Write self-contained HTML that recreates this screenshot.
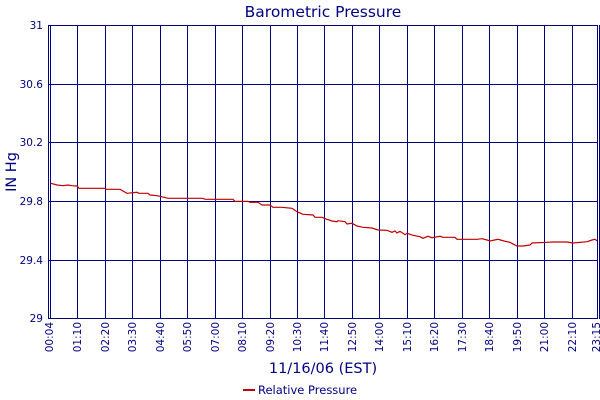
<!DOCTYPE html>
<html><head><style>body{margin:0;background:#fff}svg{display:block}</style></head><body>
<svg width="600" height="400" xmlns="http://www.w3.org/2000/svg" font-family="DejaVu Sans, Verdana, sans-serif" fill="#000080">
<rect width="600" height="400" fill="#fff"/>
<text x="323" y="17" font-size="15.5" text-anchor="middle">Barometric Pressure</text>
<g stroke="#000080" stroke-width="1" shape-rendering="crispEdges">
<line x1="49" y1="25.5" x2="598" y2="25.5"/><line x1="49" y1="84.5" x2="598" y2="84.5"/><line x1="49" y1="142.5" x2="598" y2="142.5"/><line x1="49" y1="201.5" x2="598" y2="201.5"/><line x1="49" y1="260.5" x2="598" y2="260.5"/><line x1="49" y1="318.5" x2="598" y2="318.5"/>
<line x1="48.5" y1="25" x2="48.5" y2="319"/><line x1="50.5" y1="25" x2="50.5" y2="319"/>
<line x1="77.5" y1="25" x2="77.5" y2="319"/><line x1="105.5" y1="25" x2="105.5" y2="319"/><line x1="132.5" y1="25" x2="132.5" y2="319"/><line x1="160.5" y1="25" x2="160.5" y2="319"/><line x1="187.5" y1="25" x2="187.5" y2="319"/><line x1="215.5" y1="25" x2="215.5" y2="319"/><line x1="242.5" y1="25" x2="242.5" y2="319"/><line x1="270.5" y1="25" x2="270.5" y2="319"/><line x1="297.5" y1="25" x2="297.5" y2="319"/><line x1="324.5" y1="25" x2="324.5" y2="319"/><line x1="352.5" y1="25" x2="352.5" y2="319"/><line x1="379.5" y1="25" x2="379.5" y2="319"/><line x1="407.5" y1="25" x2="407.5" y2="319"/><line x1="434.5" y1="25" x2="434.5" y2="319"/><line x1="462.5" y1="25" x2="462.5" y2="319"/><line x1="489.5" y1="25" x2="489.5" y2="319"/><line x1="517.5" y1="25" x2="517.5" y2="319"/><line x1="544.5" y1="25" x2="544.5" y2="319"/><line x1="572.5" y1="25" x2="572.5" y2="319"/><line x1="597.5" y1="25" x2="597.5" y2="319"/><line x1="599.5" y1="25" x2="599.5" y2="319"/>
</g>
<polyline fill="none" stroke="#c00000" stroke-width="1.2" points="51,183.3 57,185 63,185.7 68,185 72,185.7 77,186 79,188.3 105,188.3 106,189.3 120,189.3 127,193.3 137,192.3 139,193.3 148,193.3 150,195 157,195.7 160,196.3 168,198.3 203,198.3 205,199.3 233,199.3 235,201.3 248,201.3 250,202.3 258,202.3 262,205 270,205 273,207.3 282,207.3 292,208.3 297,211.7 303,214.3 313,215 315,217.3 322,217.3 327,219.3 332,221 337,221.7 338,220.7 345,221.7 347,224 352,223.3 357,226 363,227.3 372,228 378,230 387,230.3 392,232.3 395,231 397,233 400,231.3 405,234.7 407,233.3 413,235.3 420,236.7 423,238.3 428,236.3 432,237.7 440,236.3 443,237.3 455,237.3 457,239.3 477,239.3 482,238.7 487,240 490,241 498,239.3 504,241 510,242.3 517,246 523,246 530,245 532,243 547,242.3 553,242 567,242 573,243 587,241.7 592,240 595,239.3 597,240.7"/>
<g font-size="10.5" text-anchor="end">
<text x="43" y="29">31</text><text x="43" y="88">30.6</text><text x="43" y="146">30.2</text><text x="43" y="205">29.8</text><text x="43" y="264">29.4</text><text x="43" y="322">29</text>
</g>
<text transform="translate(16,172) rotate(-90)" font-size="14.5" text-anchor="middle">IN Hg</text>
<g font-size="10.5" text-anchor="end">
<text transform="translate(53,322) rotate(-90)">00:04</text><text transform="translate(81,322) rotate(-90)">01:10</text><text transform="translate(109,322) rotate(-90)">02:20</text><text transform="translate(136,322) rotate(-90)">03:30</text><text transform="translate(164,322) rotate(-90)">04:40</text><text transform="translate(191,322) rotate(-90)">05:50</text><text transform="translate(219,322) rotate(-90)">07:00</text><text transform="translate(246,322) rotate(-90)">08:10</text><text transform="translate(274,322) rotate(-90)">09:20</text><text transform="translate(301,322) rotate(-90)">10:30</text><text transform="translate(328,322) rotate(-90)">11:40</text><text transform="translate(356,322) rotate(-90)">12:50</text><text transform="translate(383,322) rotate(-90)">14:00</text><text transform="translate(411,322) rotate(-90)">15:10</text><text transform="translate(438,322) rotate(-90)">16:20</text><text transform="translate(466,322) rotate(-90)">17:30</text><text transform="translate(493,322) rotate(-90)">18:40</text><text transform="translate(521,322) rotate(-90)">19:50</text><text transform="translate(548,322) rotate(-90)">21:00</text><text transform="translate(576,322) rotate(-90)">22:10</text><text transform="translate(600,322) rotate(-90)">23:15</text>
</g>
<text x="323" y="373" font-size="14.5" text-anchor="middle">11/16/06 (EST)</text>
<line x1="243" y1="390" x2="255" y2="390" stroke="#c00000" stroke-width="2"/>
<text x="258" y="394" font-size="11.5">Relative Pressure</text>
</svg>
</body></html>
